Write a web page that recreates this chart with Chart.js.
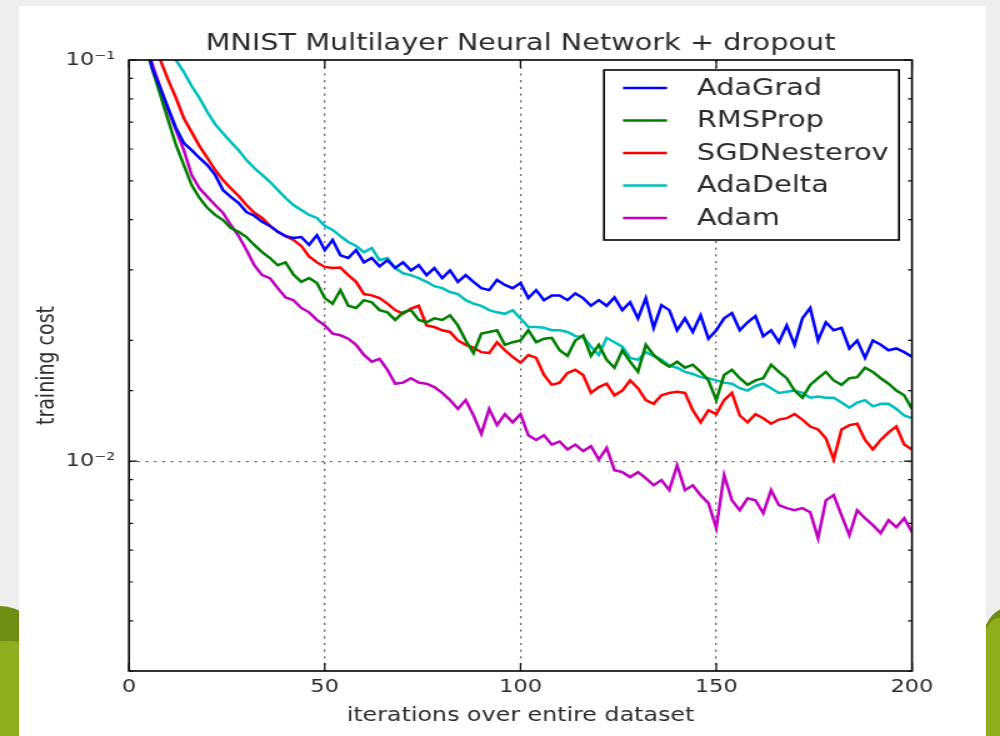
<!DOCTYPE html>
<html>
<head>
<meta charset="utf-8">
<script src="https://cdn.jsdelivr.net/npm/chart.js@4.4.1/dist/chart.umd.min.js"></script>
<style>
  html, body { margin: 0; padding: 0; width: 1000px; height: 736px; overflow: hidden; background: #eeeeee; position: relative; }
  .deco { position: absolute; }
  #gl1 { left: -80px; top: 606px; width: 160px; height: 320px; border-radius: 50%; background: #6f8d12; }
  #gl2 { left: -70px; top: 641px; width: 150px; height: 260px; border-radius: 46%; background: #8fae1c; }
  #gr1 { left: 984px; top: 606px; width: 60px; height: 60px; border-radius: 50%; background: #6f8d12; }
  #gr2 { left: 980px; top: 618px; width: 60px; height: 160px; border-radius: 30% 0 0 0; background: #8fae1c; }
  #card { position: absolute; left: 19px; top: 6px; width: 967px; height: 740px; background: #ffffff; }
  #wrap { position: absolute; left: 0; top: 0; width: 800px; height: 736px; transform: scaleX(1.25); transform-origin: 0 0; }
  canvas { display: block; }
</style>
</head>
<body>
<div class="deco" id="gl1"></div>
<div class="deco" id="gl2"></div>
<div class="deco" id="gr1"></div>
<div class="deco" id="gr2"></div>
<div id="card"></div>
<div id="wrap"><canvas id="c" width="800" height="736"></canvas></div>
<script>
// ---------------- data ----------------
const epochs = [
  2, 4, 6, 8, 10, 12, 14, 16, 18, 20,
  22, 24, 26, 28, 30, 32, 34, 36, 38, 40,
  42, 44, 46, 48, 50, 52, 54, 56, 58, 60,
  62, 64, 66, 68, 70, 72, 74, 76, 78, 80,
  82, 84, 86, 88, 90, 92, 94, 96, 98, 100,
  102, 104, 106, 108, 110, 112, 114, 116, 118, 120,
  122, 124, 126, 128, 130, 132, 134, 136, 138, 140,
  142, 144, 146, 148, 150, 152, 154, 156, 158, 160,
  162, 164, 166, 168, 170, 172, 174, 176, 178, 180,
  182, 184, 186, 188, 190, 192, 194, 196, 198, 200
];

const adaGrad = [
  0.16, 0.115, 0.0950, 0.0852, 0.0759, 0.0677, 0.0621, 0.0596, 0.0570, 0.0547,
  0.0517, 0.0474, 0.0456, 0.0440, 0.0418, 0.0409, 0.0395, 0.0386, 0.0373, 0.0364,
  0.0360, 0.0362, 0.0346, 0.0366, 0.0336, 0.0356, 0.0326, 0.0321, 0.0336, 0.0313,
  0.0321, 0.0306, 0.0317, 0.0303, 0.0313, 0.0299, 0.0308, 0.0291, 0.0303, 0.0286,
  0.0299, 0.0280, 0.0291, 0.0280, 0.0270, 0.0267, 0.0283, 0.0275, 0.0270, 0.0278,
  0.0255, 0.0267, 0.0252, 0.0259, 0.0259, 0.0252, 0.0262, 0.0255, 0.0244, 0.0252,
  0.0244, 0.0256, 0.0238, 0.0249, 0.0227, 0.0255, 0.0215, 0.0245, 0.0238, 0.0212,
  0.0227, 0.0210, 0.0231, 0.0202, 0.0212, 0.0227, 0.0234, 0.0212, 0.0222, 0.0230,
  0.0205, 0.0212, 0.0198, 0.0218, 0.0195, 0.0227, 0.0241, 0.0200, 0.0222, 0.0212,
  0.0215, 0.0191, 0.0200, 0.0181, 0.0200, 0.0195, 0.0189, 0.0191, 0.0187, 0.0182
];

const rmsProp = [
  0.15, 0.11, 0.0944, 0.0818, 0.0708, 0.0614, 0.0547, 0.0488, 0.0453, 0.0428,
  0.0411, 0.0399, 0.0381, 0.0373, 0.0362, 0.0346, 0.0332, 0.0321, 0.0308, 0.0313,
  0.0292, 0.0280, 0.0286, 0.0278, 0.0255, 0.0247, 0.0267, 0.0244, 0.0241, 0.0252,
  0.0249, 0.0238, 0.0235, 0.0225, 0.0235, 0.0238, 0.0225, 0.0222, 0.0227, 0.0225,
  0.0231, 0.0218, 0.0200, 0.0186, 0.0208, 0.0210, 0.0212, 0.0195, 0.0198, 0.0200,
  0.0212, 0.0198, 0.0202, 0.0203, 0.0189, 0.0183, 0.0200, 0.0206, 0.0183, 0.0195,
  0.0179, 0.0171, 0.0189, 0.0177, 0.0167, 0.0195, 0.0184, 0.0177, 0.0172, 0.0177,
  0.0171, 0.0174, 0.0167, 0.0159, 0.0142, 0.0164, 0.0169, 0.0161, 0.0155, 0.0159,
  0.0161, 0.0174, 0.0167, 0.0161, 0.0150, 0.0144, 0.0155, 0.0161, 0.0167, 0.0159,
  0.0155, 0.0161, 0.0162, 0.0171, 0.0167, 0.0161, 0.0156, 0.0150, 0.0146, 0.0135
];

const sgdNesterov = [
  0.22, 0.16, 0.12, 0.100, 0.0892, 0.0804, 0.0716, 0.0661, 0.0610, 0.0570,
  0.0532, 0.0502, 0.0479, 0.0458, 0.0435, 0.0416, 0.0404, 0.0386, 0.0373, 0.0364,
  0.0356, 0.0344, 0.0324, 0.0313, 0.0305, 0.0303, 0.0304, 0.0291, 0.0280, 0.0261,
  0.0259, 0.0255, 0.0247, 0.0238, 0.0233, 0.0240, 0.0244, 0.0218, 0.0216, 0.0212,
  0.0210, 0.0200, 0.0195, 0.0192, 0.0187, 0.0186, 0.0198, 0.0189, 0.0182, 0.0176,
  0.0184, 0.0181, 0.0164, 0.0155, 0.0157, 0.0166, 0.0169, 0.0164, 0.0148, 0.0153,
  0.0156, 0.0146, 0.0150, 0.0159, 0.0152, 0.0142, 0.0139, 0.0146, 0.0148, 0.0149,
  0.0148, 0.0134, 0.0125, 0.0134, 0.0131, 0.0142, 0.0148, 0.0130, 0.0125, 0.0131,
  0.0128, 0.0124, 0.0127, 0.0128, 0.0131, 0.0127, 0.0122, 0.0120, 0.0114, 0.0101,
  0.0120, 0.0123, 0.0124, 0.0113, 0.0107, 0.0113, 0.0118, 0.0122, 0.0110, 0.0107
];

const adaDelta = [
  0.30, 0.22, 0.17, 0.14, 0.115, 0.100, 0.0933, 0.0861, 0.0804, 0.0742,
  0.0692, 0.0657, 0.0625, 0.0596, 0.0563, 0.0538, 0.0517, 0.0497, 0.0474, 0.0453,
  0.0435, 0.0423, 0.0411, 0.0404, 0.0386, 0.0377, 0.0364, 0.0352, 0.0344, 0.0332,
  0.0340, 0.0317, 0.0321, 0.0303, 0.0294, 0.0291, 0.0286, 0.0280, 0.0273, 0.0270,
  0.0264, 0.0261, 0.0252, 0.0247, 0.0244, 0.0238, 0.0235, 0.0233, 0.0238, 0.0227,
  0.0216, 0.0216, 0.0215, 0.0212, 0.0212, 0.0210, 0.0205, 0.0204, 0.0193, 0.0184,
  0.0203, 0.0198, 0.0193, 0.0181, 0.0179, 0.0187, 0.0183, 0.0179, 0.0173, 0.0171,
  0.0167, 0.0165, 0.0162, 0.0161, 0.0159, 0.0157, 0.0156, 0.0152, 0.0150, 0.0154,
  0.0156, 0.0152, 0.0148, 0.0149, 0.0150, 0.0148, 0.0144, 0.0145, 0.0144, 0.0144,
  0.0140, 0.0136, 0.0140, 0.0142, 0.0137, 0.0139, 0.0139, 0.0135, 0.0130, 0.0128
];

const adam = [
  0.16, 0.115, 0.0972, 0.0852, 0.0750, 0.0669, 0.0596, 0.0517, 0.0479, 0.0456,
  0.0435, 0.0416, 0.0388, 0.0364, 0.0336, 0.0308, 0.0291, 0.0286, 0.0270, 0.0256,
  0.0252, 0.0241, 0.0235, 0.0225, 0.0218, 0.0208, 0.0206, 0.0202, 0.0195, 0.0184,
  0.0177, 0.0180, 0.0169, 0.0156, 0.0157, 0.0161, 0.0157, 0.0156, 0.0153, 0.0148,
  0.0142, 0.0135, 0.0142, 0.0130, 0.0117, 0.0135, 0.0123, 0.0131, 0.0125, 0.0131,
  0.0116, 0.0113, 0.0116, 0.0110, 0.0112, 0.0107, 0.0110, 0.0106, 0.0109, 0.0101,
  0.0108, 0.00950, 0.00939, 0.00913, 0.00939, 0.00907, 0.00871, 0.00897, 0.00847, 0.00977,
  0.00847, 0.00871, 0.00823, 0.00786, 0.00681, 0.00923, 0.00799, 0.00755, 0.00808, 0.00799,
  0.00742, 0.00847, 0.00777, 0.00764, 0.00755, 0.00764, 0.00746, 0.00643, 0.00799, 0.00823,
  0.00733, 0.00654, 0.00755, 0.00721, 0.00693, 0.00662, 0.00713, 0.00685, 0.00721, 0.00666
];

const seriesNames = ['AdaGrad', 'RMSProp', 'SGDNesterov', 'AdaDelta', 'Adam'];
const seriesColors = ['#0000ff', '#008000', '#ff0000', '#00bfbf', '#bf00bf'];
const seriesValues = [adaGrad, rmsProp, sgdNesterov, adaDelta, adam];

const xTickStep = 50;
const xMin = 0, xMax = 200;
const yMin = 0.003, yMax = 0.1;
const yTickLabels = { '-1': '10\u207B\u00B9', '-2': '10\u207B\u00B2' };

const titleText = 'MNIST Multilayer Neural Network + dropout';
const xTitle = 'iterations over entire dataset';
const yTitle = 'training cost';

// ---------------- helpers ----------------
const FONT = "'DejaVu Sans', 'Liberation Sans', sans-serif";
const TXT = '#2b2b2b';
function decadeOf(v) {
  const l = Math.log10(v);
  return Math.abs(l - Math.round(l)) < 1e-6 ? Math.round(l) : null;
}

const framePlugin = {
  id: 'frame',
  afterDatasetsDraw(chart) {
    const { ctx, chartArea: a, scales } = chart;
    const x = scales.x, y = scales.y;
    ctx.save();
    ctx.strokeStyle = '#000';
    ctx.lineWidth = 1.2;
    ctx.beginPath();
    y.ticks.forEach(t => {
      const py = y.getPixelForValue(t.value);
      const len = decadeOf(t.value) !== null ? 6.4 : 3.2;
      ctx.moveTo(a.left, py); ctx.lineTo(a.left + len, py);
      ctx.moveTo(a.right, py); ctx.lineTo(a.right - len, py);
    });
    x.ticks.forEach(t => {
      const px = x.getPixelForValue(t.value);
      ctx.moveTo(px, a.bottom); ctx.lineTo(px, a.bottom - 8);
      ctx.moveTo(px, a.top); ctx.lineTo(px, a.top + 8);
    });
    ctx.stroke();
    ctx.lineWidth = 1.6;
    ctx.strokeRect(a.left, a.top, a.right - a.left, a.bottom - a.top);
    ctx.restore();
  }
};

const boxLegend = {
  id: 'boxLegend',
  afterDraw(chart) {
    const { ctx, chartArea: a } = chart;
    const bx = a.right - 246.4, by = a.top + 10, bw = 236, bh = 170;
    ctx.save();
    ctx.fillStyle = '#fff';
    ctx.fillRect(bx, by, bw, bh);
    ctx.strokeStyle = '#000';
    ctx.lineWidth = 1.6;
    ctx.strokeRect(bx, by, bw, bh);
    ctx.font = '23px ' + FONT;
    ctx.textBaseline = 'middle';
    ctx.textAlign = 'left';
    chart.data.datasets.forEach((ds, i) => {
      const ry = by + 18 + i * 32.5;
      ctx.strokeStyle = ds.borderColor;
      ctx.lineWidth = 2.5;
      ctx.beginPath();
      ctx.moveTo(bx + 15.2, ry);
      ctx.lineTo(bx + 50.4, ry);
      ctx.stroke();
      ctx.fillStyle = TXT;
      ctx.fillText(ds.label, bx + 74.4, ry + 1);
    });
    ctx.restore();
  }
};

const datasets = seriesNames.map((name, i) => ({
  label: name,
  data: epochs.map((e, k) => ({ x: e, y: seriesValues[i][k] })),
  borderColor: seriesColors[i],
  backgroundColor: seriesColors[i],
  borderWidth: 2.5,
  pointRadius: 0,
  tension: 0,
  fill: false
}));

new Chart(document.getElementById('c'), {
  type: 'line',
  data: { datasets },
  options: {
    responsive: false,
    animation: false,
    events: [],
    devicePixelRatio: 1,
    layout: { padding: { left: 0, right: 70.4, top: 0, bottom: 0 } },
    plugins: {
      legend: { display: false },
      tooltip: { enabled: false },
      title: {
        display: true,
        text: titleText,
        fullSize: false,
        color: TXT,
        font: { family: FONT, size: 23, weight: 'normal' },
        padding: { top: 30.2, bottom: 2.2 }
      }
    },
    scales: {
      x: {
        type: 'linear',
        min: xMin,
        max: xMax,
        afterFit: s => { s.height = 65; },
        ticks: {
          stepSize: xTickStep,
          color: TXT,
          padding: 6,
          maxRotation: 0,
          font: { family: FONT, size: 18 }
        },
        grid: {
          drawTicks: false,
          lineWidth: 1.3,
          color: c => (c.tick && c.tick.value > xMin && c.tick.value < xMax) ? '#6a6a6a' : 'rgba(0,0,0,0)'
        },
        border: { display: false, dash: [2.2, 4.5] },
        title: {
          display: true,
          text: xTitle,
          color: TXT,
          font: { family: FONT, size: 19 },
          padding: { top: 0, bottom: 8.6 }
        }
      },
      y: {
        type: 'logarithmic',
        min: yMin,
        max: yMax,
        afterFit: s => { s.width = 103.2; },
        ticks: {
          autoSkip: false,
          color: TXT,
          padding: 11,
          font: { family: FONT, size: 18 },
          callback: v => {
            const d = decadeOf(v);
            return d !== null && yTickLabels[String(d)] ? yTickLabels[String(d)] : '';
          }
        },
        grid: {
          drawTicks: false,
          lineWidth: 1.3,
          color: c => {
            if (!c.tick) return 'rgba(0,0,0,0)';
            const d = decadeOf(c.tick.value);
            return (d !== null && c.tick.value < yMax * 0.99) ? '#6a6a6a' : 'rgba(0,0,0,0)';
          }
        },
        border: { display: false, dash: [2.2, 4.5] },
        title: {
          display: true,
          text: yTitle,
          color: TXT,
          font: { family: FONT, size: 19 },
          padding: { top: 27, bottom: 0 }
        }
      }
    }
  },
  plugins: [framePlugin, boxLegend]
});
</script>
</body>
</html>
